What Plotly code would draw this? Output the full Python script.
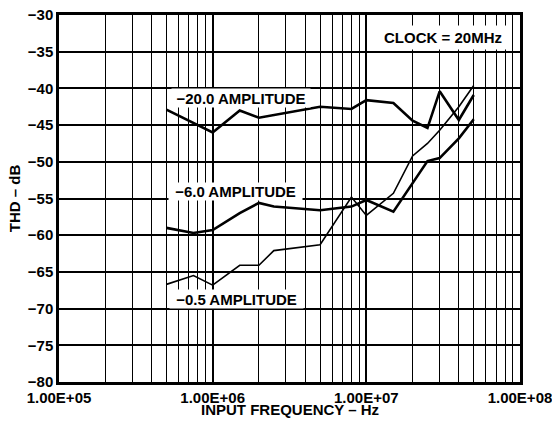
import plotly.graph_objects as go

# Data
freq_20 = [5e5, 1e6, 1.5e6, 2e6, 5e6, 8e6, 1e7, 1.5e7, 2e7, 2.5e7, 3e7, 4e7, 5e7]
thd_20 = [-42.9, -46.0, -43.0, -44.0, -42.5, -42.8, -41.6, -42.0, -44.4, -45.4, -40.4, -44.3, -40.9]

freq_6 = [5e5, 7.5e5, 1e6, 1.5e6, 2e6, 2.5e6, 5e6, 8e6, 1e7, 1.5e7, 2.5e7, 3e7, 4e7, 5e7]
thd_6 = [-59.0, -59.7, -59.3, -57.0, -55.6, -56.1, -56.6, -56.1, -55.2, -56.8, -49.9, -49.5, -46.8, -44.2]

freq_05 = [5e5, 7.5e5, 1e6, 1.5e6, 2e6, 2.5e6, 5e6, 8e6, 1e7, 1.5e7, 2e7, 2.5e7, 3e7, 4e7, 5e7]
thd_05 = [-66.7, -65.5, -66.8, -64.1, -64.1, -62.1, -61.3, -54.8, -57.3, -54.3, -49.2, -47.5, -45.7, -42.5, -39.6]

x_tickvals = [1e5, 1e6, 1e7, 1e8]
x_ticktext = ["1.00E+05", "1.00E+06", "1.00E+07", "1.00E+08"]
y_tickvals = [-80, -75, -70, -65, -60, -55, -50, -45, -40, -35, -30]
y_ticktext = ["\u221280", "\u221275", "\u221270", "\u221265", "\u221260", "\u221255",
              "\u221250", "\u221245", "\u221240", "\u221235", "\u221230"]

FONT = "Liberation Sans, Arial, Helvetica, sans-serif"

fig = go.Figure()
fig.add_trace(go.Scatter(x=freq_20, y=thd_20, mode="lines",
                         line=dict(color="black", width=2.6), showlegend=False))
fig.add_trace(go.Scatter(x=freq_6, y=thd_6, mode="lines",
                         line=dict(color="black", width=2.6), showlegend=False))
fig.add_trace(go.Scatter(x=freq_05, y=thd_05, mode="lines",
                         line=dict(color="black", width=1.6), showlegend=False))

label_font = dict(family=FONT, size=15, color="black", weight="bold")

def label(text, x, y, w, h):
    fig.add_annotation(x=x, y=y, xref="x", yref="y", text="<b>" + text + "</b>", showarrow=False,
                       font=label_font, bgcolor="white", width=w, height=h,
                       borderpad=0, align="center", valign="middle")

label("\u221220.0 AMPLITUDE", 6.183, -41.35, 138, 18)
label("\u22126.0 AMPLITUDE", 6.148, -54.1, 133, 17)
label("\u22120.5 AMPLITUDE", 6.152, -68.7, 133, 18)
label("CLOCK = 20MHz", 7.497, -33.0, 132, 23)

# x-axis title placed as paper annotation (sits close under the tick labels)
fig.add_annotation(x=0.5, y=-0.076, xref="paper", yref="paper",
                   text="<b>INPUT FREQUENCY \u2013 Hz</b>", showarrow=False,
                   font=label_font, xanchor="center", yanchor="middle")

fig.update_layout(
    width=552, height=423,
    margin=dict(l=59, r=32, t=15, b=41),
    paper_bgcolor="white", plot_bgcolor="white",
    font=dict(family=FONT, size=15, color="black"),
    xaxis=dict(
        type="log", range=[5, 8],
        tickmode="array", tickvals=x_tickvals,
        ticktext=["<b>" + t + "</b>" for t in x_ticktext],
        tickfont=dict(family=FONT, size=15, color="black"),
        ticklabeloverflow="allow",
        showgrid=True, gridcolor="black", gridwidth=2.2,
        minor=dict(dtick="D1", showgrid=True, gridcolor="black", gridwidth=1.3, ticks=""),
        showline=True, mirror=True, linecolor="black", linewidth=2.5,
        ticks="", zeroline=False, automargin=False,
    ),
    yaxis=dict(
        range=[-80, -30], tickmode="array", tickvals=y_tickvals,
        ticktext=["<b>" + t + "</b>" for t in y_ticktext],
        tickfont=dict(family=FONT, size=15, color="black"),
        ticklabeloverflow="allow",
        showgrid=True, gridcolor="black", gridwidth=1.6,
        showline=True, mirror=True, linecolor="black", linewidth=2.5,
        ticks="", zeroline=False, automargin=False,
        title=dict(text="<b>THD \u2013 dB</b>", standoff=4,
                   font=dict(family=FONT, size=15, color="black")),
    ),
)

fig.write_html("out.html", config={"displayModeBar": False},
               post_script="document.body.style.margin='0';document.body.style.padding='0';")
